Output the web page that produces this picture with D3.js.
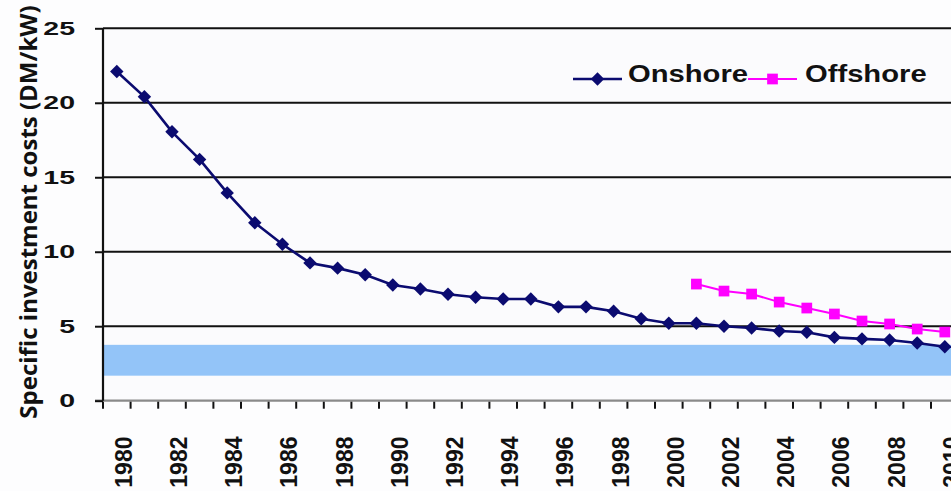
<!DOCTYPE html>
<html>
<head>
<meta charset="utf-8">
<script src="https://cdn.jsdelivr.net/npm/d3@7"></script>
<style>
  html, body { margin: 0; padding: 0; background: #fdfdfe; }
  svg { display: block; }
  .sans { font-family: "Liberation Sans", Arial, Helvetica, sans-serif; font-weight: bold; }
</style>
</head>
<body>
<svg id="chart" width="951" height="491"></svg>
<script>
// Specific investment costs of wind turbines, DM per kW
const years = [1980, 1981, 1982, 1983, 1984, 1985, 1986, 1987, 1988, 1989,
               1990, 1991, 1992, 1993, 1994, 1995, 1996, 1997, 1998, 1999,
               2000, 2001, 2002, 2003, 2004, 2005, 2006, 2007, 2008, 2009, 2010];
const onshore = [22.1, 20.4, 18.05, 16.2, 13.95, 11.95, 10.5, 9.25, 8.9, 8.45,
                 7.77, 7.5, 7.15, 6.95, 6.83, 6.83, 6.3, 6.3, 6.0, 5.5,
                 5.2, 5.2, 5.0, 4.88, 4.68, 4.6, 4.25, 4.15, 4.07, 3.87, 3.62];
const offshoreYears = [2001, 2002, 2003, 2004, 2005, 2006, 2007, 2008, 2009, 2010];
const offshore = [7.83, 7.36, 7.16, 6.62, 6.22, 5.82, 5.35, 5.15, 4.81, 4.61];
const yTicks = [0, 5, 10, 15, 20, 25];
const targetBand = [1.68, 3.75];   // shaded cost range
const seriesNames = ["Onshore", "Offshore"];
const yTitle = "Specific investment costs (DM/kW)";

const svg = d3.select("#chart");
const plotLeft = 103, plotTop = 28.3, plotBottom = 400.7, bandW = 27.6;
const plotRight = plotLeft + years.length * bandW;

const x = d3.scaleBand().domain(years).range([plotLeft, plotRight]).padding(0);
const y = d3.scaleLinear().domain([0, 25]).range([plotBottom, plotTop]);
const cx = d => x(d) + x.bandwidth() / 2;

const navy = "#0b0b70", magenta = "#ff00ff";

// plot background and shaded band
svg.append("rect").attr("x", plotLeft).attr("y", plotTop).attr("width", plotRight - plotLeft)
  .attr("height", plotBottom - plotTop).attr("fill", "#fbfbfd");
svg.append("rect").attr("x", plotLeft).attr("y", y(targetBand[1]))
  .attr("width", plotRight - plotLeft).attr("height", y(targetBand[0]) - y(targetBand[1]))
  .attr("fill", "#93c4f8");

// horizontal grid lines
svg.append("g").selectAll("line").data(yTicks.filter(v => v > 0)).join("line")
  .attr("x1", plotLeft).attr("x2", plotRight)
  .attr("y1", d => y(d)).attr("y2", d => y(d))
  .attr("stroke", "#111").attr("stroke-width", 2);

// x axis: ticks on band boundaries, labels on even years
const xAxis = svg.append("g").attr("transform", `translate(0,${plotBottom})`)
  .call(d3.axisBottom(x).tickSize(7).tickFormat(d => d % 2 === 0 ? d : ""));
xAxis.attr("font-family", null).attr("font-size", null);
xAxis.select(".domain").attr("stroke", "#8a8a8a").attr("stroke-width", 2.2)
  .attr("d", `M${plotLeft - 8},0H${plotRight}`);
xAxis.selectAll(".tick line").attr("stroke", "#111").attr("stroke-width", 2)
  .attr("transform", `translate(${-x.bandwidth() / 2},1)`);
xAxis.selectAll(".tick text")
  .attr("class", "sans")
  .attr("x", 0).attr("y", 0).attr("dy", 0)
  .attr("transform", "translate(15,87) rotate(-90)")
  .attr("text-anchor", "start")
  .attr("fill", "#111")
  .style("font-size", "23px");

// y axis
const yAxis = svg.append("g").attr("transform", `translate(${plotLeft},0)`)
  .call(d3.axisLeft(y).tickValues(yTicks).tickSize(8));
yAxis.attr("font-family", null).attr("font-size", null);
yAxis.select(".domain").attr("stroke", "#111").attr("stroke-width", 2.2)
  .attr("d", `M0,${plotTop}V${plotBottom}`);
yAxis.selectAll(".tick line").attr("stroke", "#111").attr("stroke-width", 2);
yAxis.selectAll(".tick text")
  .attr("class", "sans")
  .attr("x", 0).attr("dy", "0.36em")
  .attr("transform", "translate(-28,-1) scale(1.5,1)")
  .attr("text-anchor", "end").attr("fill", "#111")
  .style("font-size", "19px");

// y axis title
svg.append("text")
  .attr("transform", `translate(37,212) rotate(-90)`)
  .attr("text-anchor", "middle").attr("fill", "#111")
  .style("font-family", "'Open Sans', sans-serif")
  .style("font-weight", "bold").style("font-size", "24px")
  .text(yTitle);

// series lines and markers
const line = d3.line().x(d => cx(d[0])).y(d => y(d[1]));
const onPts = years.map((yr, i) => [yr, onshore[i]]);
const offPts = offshoreYears.map((yr, i) => [yr, offshore[i]]);

const diamond = d3.symbol().type(d3.symbolSquare).size(90);
const square = d3.symbol().type(d3.symbolSquare).size(115);

svg.append("path").datum(offPts).attr("d", line)
  .attr("fill", "none").attr("stroke", magenta).attr("stroke-width", 2);
svg.append("g").selectAll("path").data(offPts).join("path")
  .attr("d", square)
  .attr("transform", d => `translate(${cx(d[0])},${y(d[1])})`)
  .attr("fill", magenta);

svg.append("path").datum(onPts).attr("d", line)
  .attr("fill", "none").attr("stroke", navy).attr("stroke-width", 2.6);
svg.append("g").selectAll("path").data(onPts).join("path")
  .attr("d", diamond)
  .attr("transform", d => `translate(${cx(d[0])},${y(d[1])}) rotate(45)`)
  .attr("fill", navy);

// legend
const legend = svg.append("g");
const legendItems = [
  { name: seriesNames[0], color: navy, x0: 573, x1: 622, tx: 628, sym: diamond, rot: 45, w: 2.6 },
  { name: seriesNames[1], color: magenta, x0: 748, x1: 797, tx: 805, sym: square, rot: 0, w: 2 }
];
const ly = 79;
legendItems.forEach(it => {
  legend.append("line").attr("x1", it.x0).attr("x2", it.x1)
    .attr("y1", ly).attr("y2", ly).attr("stroke", it.color).attr("stroke-width", it.w);
  legend.append("path").attr("d", it.sym)
    .attr("transform", `translate(${(it.x0 + it.x1) / 2},${ly}) rotate(${it.rot})`)
    .attr("fill", it.color);
  legend.append("text")
    .attr("class", "sans")
    .attr("transform", `translate(${it.tx},82) scale(1.27,1)`)
    .attr("fill", "#111")
    .style("font-size", "23px")
    .text(it.name);
});
</script>
</body>
</html>
